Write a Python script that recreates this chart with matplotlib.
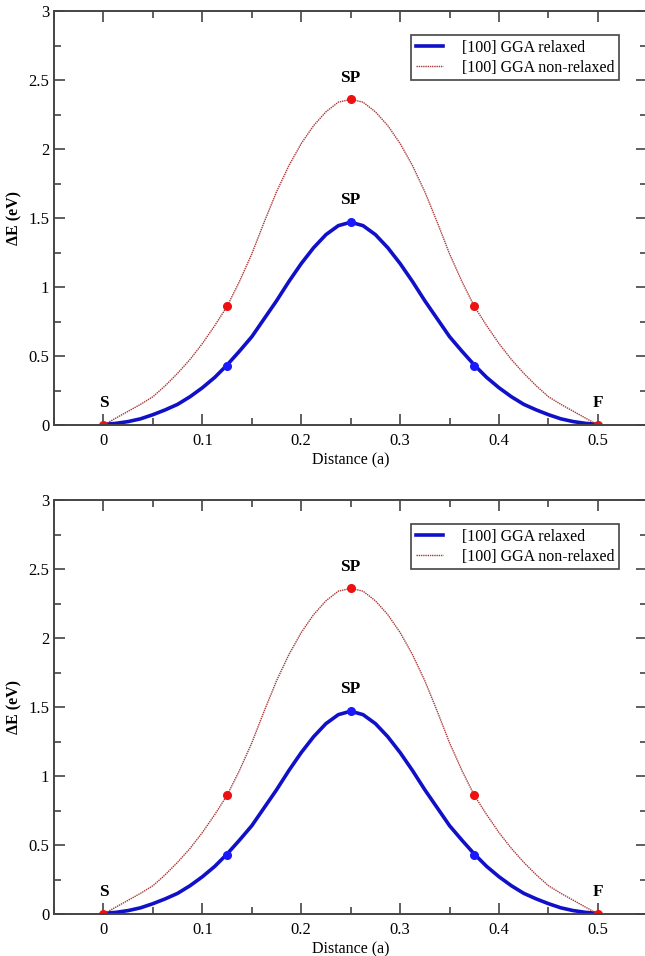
import matplotlib.pyplot as plt
from matplotlib.ticker import MultipleLocator

plt.rcParams['font.family'] = ['Liberation Serif', 'DejaVu Serif']

# curve values
dist = [0, 0.0125, 0.025, 0.0375, 0.05, 0.0625, 0.075, 0.0875, 0.1, 0.1125,
        0.125, 0.1375, 0.15, 0.1625, 0.175, 0.1875, 0.2, 0.2125, 0.225, 0.2375,
        0.25, 0.2625, 0.275, 0.2875, 0.3, 0.3125, 0.325, 0.3375, 0.35, 0.3625,
        0.375, 0.3875, 0.4, 0.4125, 0.425, 0.4375, 0.45, 0.4625, 0.475, 0.4875, 0.5]
relaxed = [0.005, 0.012, 0.025, 0.045, 0.075, 0.11, 0.15, 0.205, 0.27, 0.345,
           0.435, 0.535, 0.64, 0.77, 0.90, 1.04, 1.17, 1.285, 1.38, 1.445,
           1.47, 1.445, 1.38, 1.285, 1.17, 1.04, 0.90, 0.77, 0.64, 0.535,
           0.435, 0.345, 0.27, 0.205, 0.15, 0.11, 0.075, 0.045, 0.025, 0.012, 0.005]
nonrelaxed = [0, 0.05, 0.10, 0.15, 0.205, 0.285, 0.375, 0.475, 0.59, 0.72,
              0.86, 1.04, 1.24, 1.47, 1.69, 1.88, 2.04, 2.17, 2.27, 2.34,
              2.36, 2.34, 2.27, 2.17, 2.04, 1.88, 1.69, 1.47, 1.24, 1.04,
              0.86, 0.72, 0.59, 0.475, 0.375, 0.285, 0.205, 0.15, 0.10, 0.05, 0]

# computed images
img_x = [0, 0.125, 0.25, 0.375, 0.5]
img_relaxed = [0, 0.43, 1.47, 0.43, 0]
img_nonrelaxed = [0, 0.86, 2.36, 0.86, 0]

labels = ['S', 'SP', 'SP', 'F']
label_x = [0, 0.25, 0.25, 0.5]
label_y = [0.1, 2.46, 1.57, 0.1]

fig = plt.figure(figsize=(6.45, 9.56), dpi=100)

for bottom in [0.5554, 0.0439]:
    ax = fig.add_axes([0.0837, bottom, 0.92, 0.433])
    ax.plot(dist, relaxed, color='#1010c8', lw=2.6, label='[100] GGA relaxed')
    ax.plot(dist, nonrelaxed, color='#a83838', lw=1.0, ls=(0, (1, 0.6)),
            label='[100] GGA non-relaxed')
    ax.plot(img_x[1:4], img_relaxed[1:4], 'o', color='#1a1aff', ms=5.5)
    ax.plot(img_x, img_nonrelaxed, 'o', color='#ee1111', ms=5.5)
    for t, tx, ty in zip(labels, label_x, label_y):
        ax.text(tx, ty, t, ha='center', va='bottom', fontsize=12.5, fontweight='bold')

    ax.set_xlim(-0.05, 0.55)
    ax.set_ylim(0, 3)
    ax.xaxis.set_minor_locator(MultipleLocator(0.05))
    ax.yaxis.set_minor_locator(MultipleLocator(0.25))
    ax.set_xticks([0, 0.1, 0.2, 0.3, 0.4, 0.5])
    ax.set_xticklabels(['0', '0.1', '0.2', '0.3', '0.4', '0.5'])
    ax.set_yticks([0, 0.5, 1, 1.5, 2, 2.5, 3])
    ax.set_yticklabels(['0', '0.5', '1', '1.5', '2', '2.5', '3'])
    ax.tick_params(which='both', direction='in', top=True, right=True,
                   labelsize=12, color='#444444', width=1.2)
    ax.tick_params(which='major', length=8)
    ax.tick_params(which='minor', length=5)
    ax.tick_params(axis='x', pad=6)
    for s in ax.spines.values():
        s.set_color('#444444')
        s.set_linewidth(1.4)
    ax.set_xlabel('Distance (a)', fontsize=11.5, labelpad=2)
    ax.set_ylabel('ΔE (eV)', fontsize=11.5, fontweight='bold', labelpad=4)

    leg = ax.legend(loc='upper right', bbox_to_anchor=(0.966, 0.962), fontsize=11.5,
                    fancybox=False, framealpha=1, edgecolor='#444444',
                    handlelength=1.7, borderpad=0.3, labelspacing=0.25,
                    handletextpad=1.2)
    leg.get_frame().set_linewidth(1.2)

fig.savefig('out.png', dpi=100)
